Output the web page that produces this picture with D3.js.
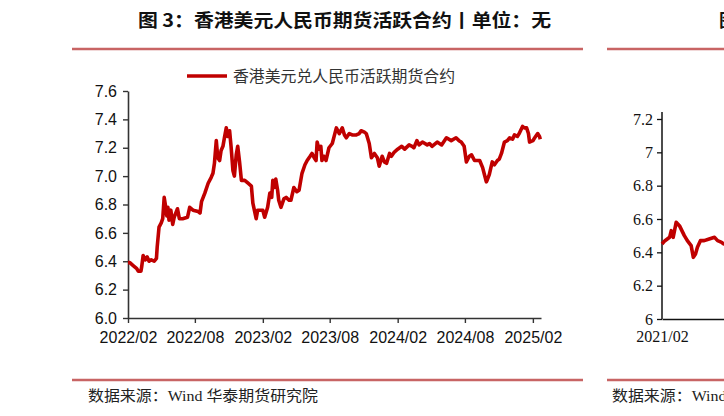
<!DOCTYPE html>
<html><head><meta charset="utf-8">
<script src="https://cdn.jsdelivr.net/npm/d3@7"></script>
<style>
html,body{margin:0;padding:0;background:#fff;}
svg{display:block;}
</style></head>
<body>
<script>
// ---- data ----
const seriesName = "香港美元兑人民币活跃期货合约";
const dates = [
"2022-02-01","2022-02-06","2022-02-15","2022-02-24","2022-03-01","2022-03-08","2022-03-10","2022-03-14","2022-03-20","2022-03-25",
"2022-03-30","2022-04-05","2022-04-13","2022-04-19","2022-04-21","2022-04-26","2022-05-02","2022-05-06","2022-05-10","2022-05-13",
"2022-05-17","2022-05-20","2022-05-23","2022-05-28","2022-06-02","2022-06-06","2022-06-15","2022-06-20","2022-06-29","2022-07-12",
"2022-07-18","2022-07-27","2022-08-10","2022-08-15","2022-08-19","2022-08-28","2022-09-06","2022-09-14","2022-09-19","2022-09-23",
"2022-09-28","2022-10-02","2022-10-07","2022-10-11","2022-10-16","2022-10-20","2022-10-25","2022-10-29","2022-11-03","2022-11-07",
"2022-11-12","2022-11-16","2022-11-21","2022-11-25","2022-11-30","2022-12-05","2022-12-14","2022-12-23","2023-01-01","2023-01-05",
"2023-01-14","2023-01-18","2023-02-01","2023-02-06","2023-02-14","2023-02-20","2023-02-25","2023-02-28","2023-03-04","2023-03-08",
"2023-03-13","2023-03-16","2023-03-22","2023-03-30","2023-04-05","2023-04-13","2023-04-18","2023-04-26","2023-05-04","2023-05-10",
"2023-05-18","2023-05-26","2023-06-01","2023-06-09","2023-06-14","2023-06-20","2023-06-25","2023-06-28","2023-07-03","2023-07-08",
"2023-07-11","2023-07-16","2023-07-22","2023-07-30","2023-08-08","2023-08-13","2023-08-19","2023-08-27","2023-09-04","2023-09-10",
"2023-09-15","2023-09-23","2023-10-01","2023-10-12","2023-10-20","2023-10-25","2023-11-03","2023-11-08","2023-11-16","2023-11-22",
"2023-11-30","2023-12-08","2023-12-13","2023-12-21","2023-12-27","2024-01-02","2024-01-10","2024-01-15","2024-01-23","2024-02-01",
"2024-02-12","2024-02-20","2024-03-03","2024-03-11","2024-03-16","2024-03-24","2024-03-30","2024-04-08","2024-04-21","2024-04-27",
"2024-05-04","2024-05-18","2024-05-30","2024-06-12","2024-06-25","2024-07-08","2024-07-16","2024-07-22","2024-07-30","2024-08-05",
"2024-08-13","2024-08-19","2024-08-27","2024-09-01","2024-09-10","2024-09-18","2024-09-23","2024-09-28","2024-09-30","2024-10-06",
"2024-10-14","2024-10-20","2024-10-28","2024-11-02","2024-11-08","2024-11-16","2024-11-24","2024-11-30","2024-12-08","2024-12-13",
"2024-12-21","2024-12-26","2025-01-04","2025-01-09","2025-01-15","2025-01-20","2025-01-23","2025-02-01","2025-02-06","2025-02-14",
"2025-02-19","2025-02-21"
];
const values = [
6.39,6.39,6.37,6.35,6.33,6.33,6.36,6.44,6.41,6.43,
6.40,6.41,6.40,6.42,6.50,6.64,6.67,6.70,6.85,6.80,
6.72,6.78,6.69,6.76,6.66,6.71,6.77,6.70,6.70,6.71,
6.78,6.76,6.75,6.74,6.82,6.88,6.95,6.99,7.02,7.09,
7.25,7.13,7.11,7.18,7.21,7.27,7.34,7.28,7.32,7.21,
7.04,7.00,7.15,7.21,7.10,6.97,6.97,6.95,6.93,6.81,
6.70,6.76,6.76,6.71,6.78,6.88,6.85,6.97,6.92,6.98,
6.90,6.83,6.78,6.84,6.85,6.83,6.83,6.92,6.89,6.90,
7.02,7.08,7.11,7.14,7.16,7.13,7.11,7.24,7.19,7.21,
7.11,7.14,7.11,7.20,7.23,7.28,7.34,7.30,7.34,7.29,
7.27,7.30,7.29,7.29,7.30,7.32,7.31,7.30,7.23,7.13,
7.16,7.13,7.07,7.14,7.10,7.09,7.16,7.14,7.17,7.19,
7.21,7.19,7.22,7.21,7.20,7.25,7.22,7.24,7.22,7.23,
7.21,7.24,7.22,7.27,7.25,7.27,7.25,7.24,7.21,7.10,
7.14,7.15,7.11,7.11,7.11,7.06,7.01,6.96,6.97,7.01,
7.10,7.08,7.11,7.12,7.16,7.24,7.25,7.27,7.26,7.29,
7.28,7.30,7.35,7.34,7.34,7.30,7.24,7.25,7.27,7.30,
7.28,7.26
];
const xTickLabels = ["2022/02","2022/08","2023/02","2023/08","2024/02","2024/08","2025/02"];
const yTicks = [6.0,6.2,6.4,6.6,6.8,7.0,7.2,7.4,7.6];

// partially visible neighbouring chart (right edge)
const dates2 = ["2021-02-01","2021-02-12","2021-03-01","2021-03-07","2021-03-14","2021-03-25","2021-04-06","2021-04-24","2021-05-05","2021-05-19",
"2021-05-27","2021-06-04","2021-06-11","2021-06-22","2021-07-06","2021-07-24","2021-08-13","2021-08-24","2021-09-08","2021-09-15","2021-10-01"];
const values2 = [6.45,6.47,6.49,6.53,6.49,6.58,6.56,6.50,6.47,6.44,6.37,6.39,6.43,6.47,6.47,6.48,6.49,6.47,6.46,6.45,6.45];
const yTickLabels2 = ["6","6.2","6.4","6.6","6.8","7","7.2"];
const xTickLabels2 = ["2021/02"];

// ---- drawing ----
const W = 724, H = 416;
const RED = "#c00000", RULE = "#c86464";
const parse = d3.timeParse("%Y-%m-%d");
const parseM = d3.timeParse("%Y/%m");
const svg = d3.select("body").append("svg").attr("width", W).attr("height", H)
  .style("font-family", "'Liberation Sans', Arial, 'Noto Sans CJK SC', sans-serif");

// Title
svg.append("text").attr("x", 138).attr("y", 27)
  .attr("textLength", 413).attr("lengthAdjust", "spacingAndGlyphs")
  .style("font-family", "'Noto Sans CJK SC', sans-serif").style("font-weight", 700).style("font-size", "18px").attr("fill", "#111")
  .text("图 3：香港美元人民币期货活跃合约丨单位：无");
svg.append("text").attr("x", 719).attr("y", 27)
  .style("font-family", "'Noto Sans CJK SC', sans-serif").style("font-weight", 700).style("font-size", "18px").attr("fill", "#111")
  .text("图 4：");

// rules
[[72,583],[607,724]].forEach(([a,b]) => {
  svg.append("line").attr("x1", a).attr("x2", b).attr("y1", 49).attr("y2", 49).attr("stroke", RULE).attr("stroke-width", 2.5);
  svg.append("line").attr("x1", a).attr("x2", b).attr("y1", 380).attr("y2", 380).attr("stroke", RULE).attr("stroke-width", 2.5);
});

// source texts
svg.append("text").attr("x", 88).attr("y", 401)
  .attr("textLength", 230).attr("lengthAdjust", "spacingAndGlyphs")
  .style("font-family", "'Liberation Serif', 'Noto Sans CJK SC', serif").style("font-size", "15px").attr("fill", "#222")
  .text("数据来源：Wind 华泰期货研究院");
svg.append("text").attr("x", 612).attr("y", 401)
  .attr("textLength", 230).attr("lengthAdjust", "spacingAndGlyphs")
  .style("font-family", "'Liberation Serif', 'Noto Sans CJK SC', serif").style("font-size", "15px").attr("fill", "#222")
  .text("数据来源：Wind 华泰期货研究院");

// Main chart scales
const x = d3.scaleTime().domain([parse("2022-02-01"), parse("2025-02-23")]).range([128, 541]);
const y = d3.scaleLinear().domain([6.0, 7.6]).range([318, 91]);

const gx = svg.append("g").attr("transform", "translate(0,318)")
  .call(d3.axisBottom(x).tickValues(xTickLabels.map(parseM)).tickFormat(d3.timeFormat("%Y/%m")).tickSize(5).tickSizeOuter(0));
const gy = svg.append("g").attr("transform", "translate(128,0)")
  .call(d3.axisLeft(y).tickValues(yTicks).tickFormat(d3.format(".1f")).tickSize(5).tickSizeOuter(0));
[gx, gy].forEach(g => {
  g.select(".domain").attr("stroke", "#333").attr("stroke-width", 1.6);
  g.selectAll(".tick line").attr("stroke", "#333").attr("stroke-width", 1.4);
  g.selectAll(".tick text").attr("fill", "#111").style("font-size", "16px").style("font-family", "'Liberation Sans', Arial, sans-serif");
});
gx.selectAll(".tick text").attr("dy", "1.05em");
gy.selectAll(".tick text").attr("x", -11);

const data = dates.map((d, i) => ({d: parse(d), v: values[i]}));
svg.append("path").datum(data)
  .attr("fill", "none").attr("stroke", RED).attr("stroke-width", 3.6).attr("stroke-linejoin", "round")
  .attr("d", d3.line().x(p => x(p.d)).y(p => y(p.v)));

// legend
svg.append("line").attr("x1", 187).attr("x2", 227).attr("y1", 76).attr("y2", 76).attr("stroke", RED).attr("stroke-width", 3.4);
svg.append("text").attr("x", 233).attr("y", 81.5)
  .attr("textLength", 222).attr("lengthAdjust", "spacingAndGlyphs")
  .style("font-family", "'Noto Sans CJK SC', sans-serif").style("font-size", "15.5px").attr("fill", "#333")
  .text(seriesName);

// Right partial chart
const x2 = d3.scaleTime().domain([parse("2021-02-01"), parse("2025-02-01")]).range([662, 1060]);
const y2 = d3.scaleLinear().domain([6, 7.2]).range([319, 119]);
const gx2 = svg.append("g").attr("transform", "translate(0,319)")
  .call(d3.axisBottom(x2).tickValues(xTickLabels2.map(parseM)).tickFormat(d3.timeFormat("%Y/%m")).tickSize(0).tickSizeOuter(0));
const gy2 = svg.append("g").attr("transform", "translate(662,0)")
  .call(d3.axisLeft(y2).tickValues(yTickLabels2.map(Number)).tickFormat((d, i) => yTickLabels2[i]).tickSize(5).tickSizeOuter(0));
gy2.select(".domain").attr("d", "M0,112V319");
[gx2, gy2].forEach(g => {
  g.select(".domain").attr("stroke", "#111").attr("stroke-width", 1.5);
  g.selectAll(".tick line").attr("stroke", "#111").attr("stroke-width", 1.3);
  g.selectAll(".tick text").attr("fill", "#111").style("font-size", "16px").style("font-family", "'Liberation Serif', 'Times New Roman', serif");
});
gx2.selectAll(".tick text").attr("dy", "1.25em");
gy2.selectAll(".tick text").attr("x", -9);

const data2 = dates2.map((d, i) => ({d: parse(d), v: values2[i]}));
svg.append("path").datum(data2)
  .attr("fill", "none").attr("stroke", RED).attr("stroke-width", 3.6).attr("stroke-linejoin", "round")
  .attr("d", d3.line().x(p => x2(p.d)).y(p => y2(p.v)));
</script>
</body></html>
